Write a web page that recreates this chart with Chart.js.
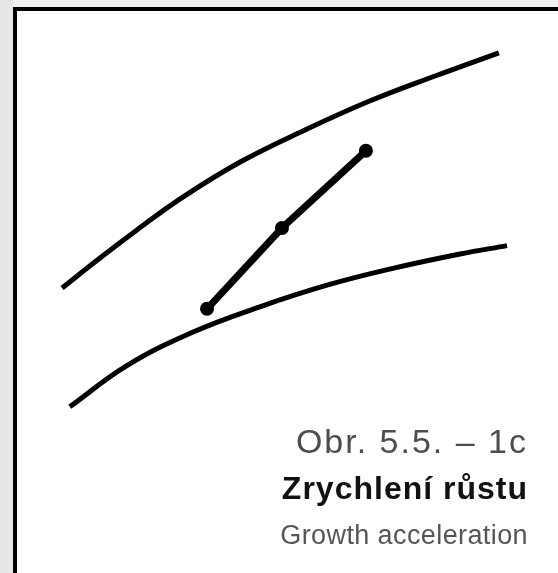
<!DOCTYPE html>
<html>
<head>
<meta charset="utf-8">
<script src="https://cdn.jsdelivr.net/npm/chart.js@4/dist/chart.umd.min.js"></script>
<style>
  html, body { margin: 0; padding: 0; background: #ffffff; }
  #c { display: block; }
</style>
</head>
<body>
<canvas id="c" width="558" height="573"></canvas>
<script>
// ---- data (chart units: x 0..10, y 0..10) ----
const xUpper = [0.46, 1.25, 2.02, 2.92, 4.17, 5.52, 6.88, 8.23, 9.56];
const yUpper = [3.55, 4.30, 5.00, 5.78, 6.70, 7.50, 8.23, 8.85, 9.43];
const xLower = [0.62, 1.81, 3.19, 4.58, 5.98, 7.35, 8.75, 9.73];
const yLower = [0.58, 1.61, 2.45, 3.08, 3.62, 4.04, 4.40, 4.61];
const xPath = [3.48, 5.04, 6.79];
const yPath = [3.03, 5.05, 6.98];
const captionLines = ["Obr. 5.5. – 1c", "Zrychlení růstu", "Growth acceleration"];

const pts = (xs, ys) => xs.map((x, i) => ({ x: x, y: ys[i] }));

const framePlugin = {
  id: 'frame',
  beforeDraw(chart) {
    const ctx = chart.ctx;
    const W = chart.width, H = chart.height;
    ctx.save();
    ctx.fillStyle = '#f1f1f1';
    ctx.fillRect(0, 0, W, H);
    ctx.fillStyle = '#e6e6e6';
    ctx.fillRect(0, 0, 13, H);
    ctx.fillStyle = '#ffffff';
    ctx.fillRect(13, 7, W - 13, H - 7);
    ctx.fillStyle = '#000000';
    ctx.fillRect(13, 7, W - 13, 4);
    ctx.fillRect(13, 7, 4, H - 7);
    ctx.restore();
  }
};

const captionPlugin = {
  id: 'caption',
  afterDraw(chart) {
    const ctx = chart.ctx;
    const right = chart.chartArea.right + 8;
    const styles = [
      { font: '34px "Liberation Sans", Arial, sans-serif', color: '#4d4d4d', base: 453, ls: '2px' },
      { font: 'bold 32px "Liberation Sans", Arial, sans-serif', color: '#111111', base: 499, ls: '1px' },
      { font: '27px "Liberation Sans", Arial, sans-serif', color: '#555555', base: 544, ls: '0.4px' }
    ];
    ctx.save();
    ctx.textAlign = 'right';
    ctx.textBaseline = 'alphabetic';
    captionLines.forEach((t, i) => {
      const s = styles[i];
      ctx.font = s.font;
      ctx.fillStyle = s.color;
      if ('letterSpacing' in ctx) ctx.letterSpacing = s.ls;
      ctx.fillText(t, right, s.base);
    });
    ctx.restore();
  }
};

new Chart(document.getElementById('c'), {
  type: 'scatter',
  data: {
    datasets: [
      {
        label: 'upper',
        data: pts(xUpper, yUpper),
        showLine: true,
        borderColor: '#000',
        borderWidth: 5,
        pointRadius: 0,
        tension: 0.4,
        borderCapStyle: 'butt'
      },
      {
        label: 'lower',
        data: pts(xLower, yLower),
        showLine: true,
        borderColor: '#000',
        borderWidth: 5,
        pointRadius: 0,
        tension: 0.4,
        borderCapStyle: 'butt'
      },
      {
        label: 'path',
        data: pts(xPath, yPath),
        showLine: true,
        borderColor: '#000',
        backgroundColor: '#000',
        borderWidth: 7,
        pointRadius: 7,
        pointBorderWidth: 0,
        pointBackgroundColor: '#000',
        tension: 0
      }
    ]
  },
  options: {
    responsive: false,
    animation: false,
    devicePixelRatio: 1,
    layout: { padding: { left: 40, right: 38, top: 30, bottom: 143 } },
    scales: {
      x: { type: 'linear', min: 0, max: 10, display: false },
      y: { type: 'linear', min: 0, max: 10, display: false }
    },
    plugins: {
      legend: { display: false },
      tooltip: { enabled: false },
      title: { display: false }
    }
  },
  plugins: [framePlugin, captionPlugin]
});
</script>
</body>
</html>
